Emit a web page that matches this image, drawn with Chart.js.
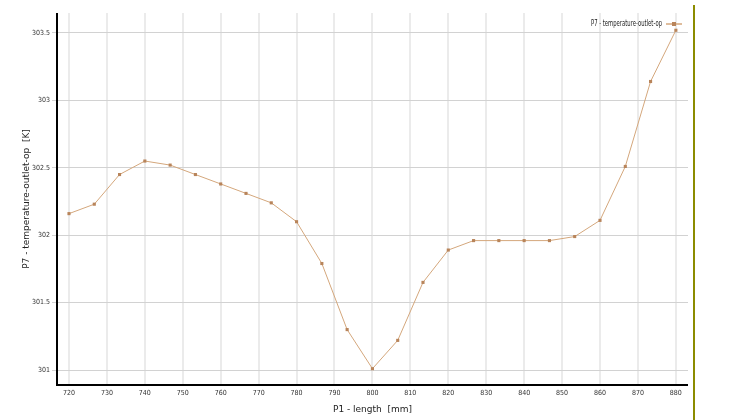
<!DOCTYPE html>
<html>
<head>
<meta charset="utf-8">
<script src="https://cdn.jsdelivr.net/npm/chart.js@4"></script>
<style>
  html, body { margin: 0; padding: 0; background: #fff; }
  #wrap { width: 752px; height: 420px; position: relative; }
</style>
</head>
<body>
<div id="wrap"><canvas id="chart"></canvas></div>
<script>
// length values [mm]
const lengths = [720, 726.67, 733.33, 740, 746.67, 753.33, 760, 766.67, 773.33, 780,
  786.67, 793.33, 800, 806.67, 813.33, 820, 826.67, 833.33, 840, 846.67,
  853.33, 860, 866.67, 873.33, 880];
// outlet temperature [K]
const temps = [302.16, 302.23, 302.45, 302.55, 302.52, 302.45, 302.38, 302.31, 302.24, 302.10,
  301.79, 301.30, 301.01, 301.22, 301.65, 301.89, 301.96, 301.96, 301.96, 301.96,
  301.99, 302.11, 302.51, 303.14, 303.52];
const seriesLabel = "P7 - temperature-outlet-op";
const xTitle = "P1 - length  [mm]";
const yTitle = "P7 - temperature-outlet-op  [K]";

const tickFont = { family: "DejaVu Sans Condensed", size: 7 };

// draws the axis lines, the legend and the olive line on the right
const decorations = {
  id: "decorations",
  afterDraw(chart) {
    const ctx = chart.ctx;
    const a = chart.chartArea;
    ctx.save();
    // black axis lines
    ctx.strokeStyle = "#000";
    ctx.lineWidth = 2;
    ctx.beginPath();
    ctx.moveTo(a.left, a.top);
    ctx.lineTo(a.left, a.bottom + 1);
    ctx.moveTo(a.left - 1, a.bottom);
    ctx.lineTo(a.right, a.bottom);
    ctx.stroke();
    // legend
    ctx.font = "8px 'DejaVu Sans Condensed'";
    ctx.fillStyle = "#222";
    ctx.textAlign = "right";
    ctx.textBaseline = "middle";
    ctx.fillText(seriesLabel, a.right - 26, a.top + 11, 71);
    ctx.strokeStyle = "#d4a77c";
    ctx.lineWidth = 1.5;
    ctx.beginPath();
    ctx.moveTo(a.right - 22, a.top + 11);
    ctx.lineTo(a.right - 6, a.top + 11);
    ctx.stroke();
    ctx.fillStyle = "#b8845a";
    ctx.fillRect(a.right - 16, a.top + 9, 4, 4);
    // olive line
    ctx.strokeStyle = "#8c8c00";
    ctx.lineWidth = 2;
    ctx.beginPath();
    ctx.moveTo(694, 5);
    ctx.lineTo(694, 420);
    ctx.stroke();
    ctx.restore();
  }
};

new Chart(document.getElementById("chart"), {
  type: "line",
  data: {
    datasets: [{
      label: seriesLabel,
      data: lengths.map((x, i) => ({ x: x, y: temps[i] })),
      borderColor: "#d4a77c",
      borderWidth: 1,
      pointStyle: "rect",
      pointRadius: 2.2,
      pointBackgroundColor: "#b8845a",
      pointBorderColor: "#b8845a",
      pointBorderWidth: 0,
      tension: 0
    }]
  },
  options: {
    responsive: true,
    maintainAspectRatio: false,
    animation: false,
    layout: { padding: { left: 0, right: 64, top: 13, bottom: 0 } },
    plugins: { legend: { display: false }, tooltip: { enabled: false } },
    scales: {
      x: {
        type: "linear",
        min: 716.84,
        max: 883.2,
        ticks: { stepSize: 10, includeBounds: false, font: tickFont, color: "#333", padding: 4, maxRotation: 0 },
        grid: { color: "#ebebeb", lineWidth: 2, drawTicks: false },
        border: { display: false },
        title: { display: true, text: xTitle, font: { family: "DejaVu Sans", size: 9 }, color: "#222", padding: { top: 4, bottom: 5 } },
        afterFit(scale) { scale.height = 35; }
      },
      y: {
        min: 300.889,
        max: 303.648,
        ticks: {
          stepSize: 0.5, includeBounds: false, font: tickFont, color: "#333", padding: 2,
          callback: (v) => String(Math.round(v * 10) / 10)
        },
        grid: { color: "#d2d2d2", lineWidth: 1, tickLength: 5 },
        border: { display: false },
        title: { display: true, text: yTitle, font: { family: "DejaVu Sans", size: 9 }, color: "#222", padding: { top: 21, bottom: 4 } },
        afterFit(scale) { scale.width = 57; }
      }
    }
  },
  plugins: [decorations]
});
</script>
</body>
</html>
